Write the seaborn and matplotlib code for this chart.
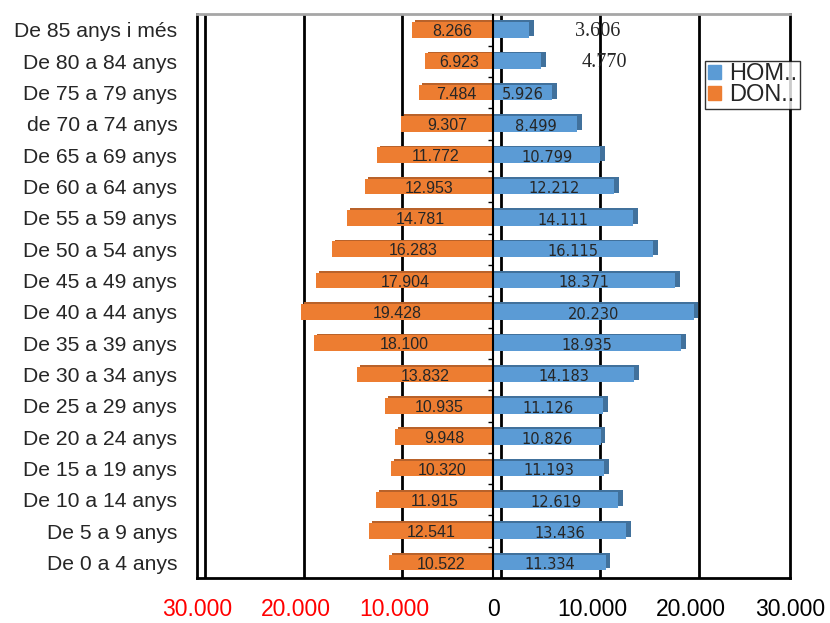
import numpy as np
import pandas as pd
import matplotlib
matplotlib.use("Agg")
import matplotlib.pyplot as plt
from matplotlib.patches import Patch
from matplotlib.ticker import FuncFormatter
import seaborn as sns

# -------------------------
# Data (top row first)
# -------------------------
groups = ["De 85 anys i més", "De 80 a 84 anys", "De 75 a 79 anys", "de 70 a 74 anys",
          "De 65 a 69 anys", "De 60 a 64 anys", "De 55 a 59 anys", "De 50 a 54 anys",
          "De 45 a 49 anys", "De 40 a 44 anys", "De 35 a 39 anys", "De 30 a 34 anys",
          "De 25 a 29 anys", "De 20 a 24 anys", "De 15 a 19 anys", "De 10 a 14 anys",
          "De 5 a 9 anys", "De 0 a 4 anys"]
dones = [8266, 6923, 7484, 9307, 11772, 12953, 14781, 16283, 17904, 19428,
         18100, 13832, 10935, 9948, 10320, 11915, 12541, 10522]
homes = [3606, 4770, 5926, 8499, 10799, 12212, 14111, 16115, 18371, 20230,
         18935, 14183, 11126, 10826, 11193, 12619, 13436, 11334]
x_ticks = [-30000, -20000, -10000, 0, 10000, 20000, 30000]

BLUE = "#5B9BD5"
ORANGE = "#ED7D31"
BLUE_D = "#41719C"
ORANGE_D = "#B9622A"


def fmt_thousands(v, pos=None):
    return f"{abs(int(v)):,}".replace(",", ".")


df = pd.DataFrame({"grup": groups, "homes": homes, "dones": [-d for d in dones]})

sns.set_style("white")
plt.rcParams["font.family"] = ["Liberation Sans", "DejaVu Sans"]

fig = plt.figure(figsize=(8.3, 6.23), dpi=100)
ax = fig.add_axes([0.237, 0.072, 0.715, 0.905])

ypos = np.arange(len(groups))
# depth strip behind bars (fake 3D)
ax.barh(ypos - 0.06, df["homes"] + 500, height=0.5, color=BLUE_D, lw=0, zorder=1)
ax.barh(ypos - 0.06, df["dones"] + 300, height=0.5, color=ORANGE_D, lw=0, zorder=1)

sns.barplot(data=df, y="grup", x="homes", color=BLUE, orient="h", width=0.5,
            saturation=1, linewidth=0, ax=ax, zorder=2)
sns.barplot(data=df, y="grup", x="dones", color=ORANGE, orient="h", width=0.5,
            saturation=1, linewidth=0, ax=ax, zorder=2)

# bar value labels
for i, (h, d) in enumerate(zip(homes, dones)):
    ax.text(-d / 2, i + 0.05, fmt_thousands(d), ha="center", va="center",
            fontsize=11.5, zorder=4)
    if h < 5000:
        ax.text(h + 4600 - (h - 3606) * 0.4, i + 0.05, fmt_thousands(h), ha="left",
                va="center", fontsize=14.5,
                family=["Liberation Serif", "DejaVu Serif"], zorder=4)
    else:
        ax.text(h / 2, i + 0.07, fmt_thousands(h), ha="center", va="center",
                fontsize=10.5, family=["DejaVu Sans"], zorder=4)

# gridlines (back wall, shifted) and zero axis
for xv in x_ticks:
    ax.axvline(xv + 800, color="black", lw=2, zorder=0)
ax.axvline(0, color="black", lw=1.5, zorder=3)
ax.hlines(ypos[:-1] + 0.5, -600, 0, color="black", lw=1, zorder=3)

ax.set_xlim(-30000, 30000)
ax.set_ylim(len(groups) - 0.5, -0.5)
ax.set_xticks(x_ticks)
ax.xaxis.set_major_formatter(FuncFormatter(fmt_thousands))
ax.tick_params(axis="x", labelsize=16.5, length=6, width=1.2, direction="out",
               color="black", pad=8)
ax.tick_params(axis="y", labelsize=15.2, length=0, pad=14)
for lbl, v in zip(ax.get_xticklabels(), x_ticks):
    lbl.set_color("red" if v < 0 else "black")
ax.set_xlabel("")
ax.set_ylabel("")

for s in ["left", "right", "bottom"]:
    ax.spines[s].set_color("black")
    ax.spines[s].set_linewidth(2)
ax.spines["top"].set_color("#a6a6a6")
ax.spines["top"].set_linewidth(2)

handles = [Patch(color=BLUE, label="HOM.."), Patch(color=ORANGE, label="DON..")]
leg = ax.legend(handles=handles, loc="upper right", bbox_to_anchor=(1.017, 0.918),
                frameon=True, fancybox=False, fontsize=17, handlelength=0.55,
                handleheight=0.55, handletextpad=0.35, borderpad=0.12,
                borderaxespad=0, labelspacing=-0.05)
leg.get_frame().set_edgecolor("black")
leg.get_frame().set_linewidth(1)
leg.set_zorder(5)

fig.savefig("out.png", dpi=100)
